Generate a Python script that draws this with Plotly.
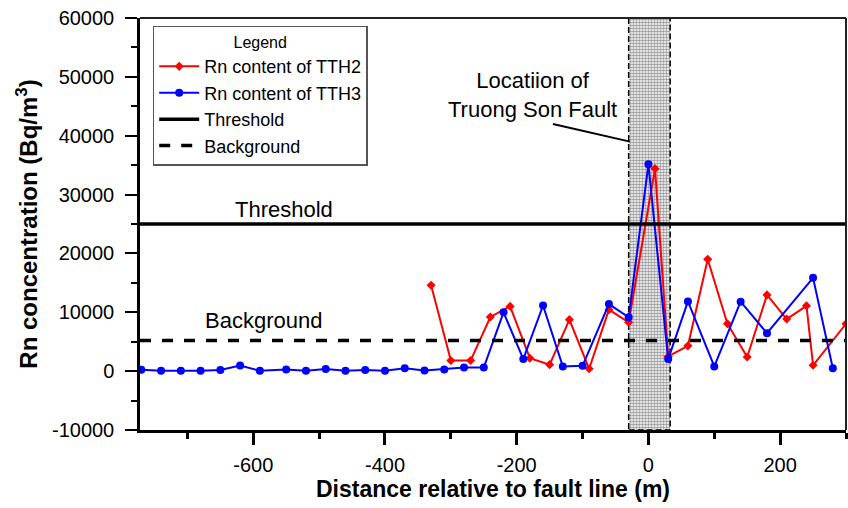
import plotly.graph_objects as go

# ---- data ----
tth2_x = [-330, -300, -270, -240, -210, -180, -150, -120, -90, -60, -30, 10, 30, 60, 90, 120, 150, 180, 210, 240, 250, 300]
tth2_y = [14600, 1800, 1800, 9200, 11000, 2200, 1100, 8750, 400, 10450, 8300, 34400, 2500, 4300, 19000, 8050, 2400, 12950, 8850, 11100, 1000, 8050]

tth3_x = [-770, -740, -710, -680, -650, -620, -590, -550, -520, -490, -460, -430, -400, -370, -340, -310, -280, -250,
          -220, -190, -160, -130, -100, -60, -30, 0, 30, 60, 100, 140, 180, 250, 280]
tth3_y = [250, 50, 50, 50, 200, 950, 50, 300, 50, 350, 50, 200, 50, 500, 100, 300, 600, 600,
          10000, 2050, 11150, 800, 900, 11400, 9150, 35150, 2050, 11850, 800, 11800, 6450, 15850, 500]

threshold = 25000
background = 5200
fault_zone = [-30, 33]

x_range = [-772, 300]
y_range = [-10000, 60000]
x_tickvals = [-600, -400, -200, 0, 200]
x_ticktext = ["-600", "-400", "-200", "0", "200"]
y_tickvals = [-10000, 0, 10000, 20000, 30000, 40000, 50000, 60000]
y_ticktext = ["-10000", "0", "10000", "20000", "30000", "40000", "50000", "60000"]

FONT = "Liberation Sans, Arial, sans-serif"

fig = go.Figure()

# fault zone (stippled band)
fig.add_trace(go.Scatter(
    x=[fault_zone[0], fault_zone[1], fault_zone[1], fault_zone[0], fault_zone[0]],
    y=[y_range[0], y_range[0], y_range[1], y_range[1], y_range[0]],
    mode="lines", fill="toself",
    fillcolor="rgba(0,0,0,0)",
    fillpattern=dict(shape=".", fgcolor="#333333", bgcolor="white", size=3, solidity=0.55),
    line=dict(color="black", width=1.5, dash="6px,3px"),
    showlegend=False, hoverinfo="skip"))

fig.add_trace(go.Scatter(
    x=tth2_x, y=tth2_y, mode="lines+markers", name="Rn content of TTH2",
    line=dict(color="#ff0000", width=2),
    marker=dict(symbol="diamond", size=7, color="#ff0000")))

fig.add_trace(go.Scatter(
    x=tth3_x, y=tth3_y, mode="lines+markers", name="Rn content of TTH3",
    line=dict(color="#0000ff", width=2),
    marker=dict(symbol="circle", size=8, color="#0000ff")))

fig.add_trace(go.Scatter(
    x=x_range, y=[threshold, threshold], mode="lines", name="Threshold",
    line=dict(color="black", width=3.5), hoverinfo="skip"))

fig.add_trace(go.Scatter(
    x=x_range, y=[background, background], mode="lines", name="Background",
    line=dict(color="black", width=3.5, dash="11px,11px"), hoverinfo="skip"))

# annotations
fig.add_annotation(x=-553, y=threshold, text="Threshold", showarrow=False,
                   yanchor="bottom", yshift=0, font=dict(size=22, family=FONT, color="black"))
fig.add_annotation(x=-585, y=background, text="Background", showarrow=False,
                   yanchor="bottom", yshift=6, font=dict(size=22, family=FONT, color="black"))
fig.add_annotation(x=-176, y=46900, text="Locatiion of<br>Truong Son Fault", showarrow=False,
                   font=dict(size=22, family=FONT, color="black"), align="center")
# leader line to the fault zone
fig.add_shape(type="line", xref="x", yref="y", x0=-145, y0=42000, x1=fault_zone[0] + 2, y1=39000,
              line=dict(color="black", width=2))

# top and right frame
fig.add_shape(type="line", xref="paper", yref="paper", x0=0, x1=1, y0=1, y1=1,
              line=dict(color="#222222", width=2))
fig.add_shape(type="line", xref="paper", yref="paper", x0=1, x1=1, y0=0, y1=1,
              line=dict(color="#222222", width=2))

fig.update_layout(
    width=848, height=508,
    margin=dict(l=140, r=2, t=18, b=78),
    paper_bgcolor="white", plot_bgcolor="white",
    font=dict(family=FONT, color="black"),
    legend=dict(
        x=0.018, y=0.981, xanchor="left", yanchor="top",
        bgcolor="white", bordercolor="#555555", borderwidth=1.5,
        font=dict(size=18, family=FONT),
        title=dict(text="Legend", side="top center", font=dict(size=16, family=FONT)),
        tracegroupgap=0, itemwidth=40),
    xaxis=dict(
        range=x_range, showgrid=False, zeroline=False,
        showline=True, linecolor="black", linewidth=2.5,
        tickvals=x_tickvals, ticktext=x_ticktext,
        ticks="outside", ticklen=12, tickwidth=2.5, tickcolor="black",
        ticklabelstandoff=3,
        minor=dict(dtick=100, ticks="outside", ticklen=6, tickwidth=2.5, tickcolor="black"),
        tickfont=dict(size=20, family=FONT),
        title=dict(text="<b>Distance relative to fault line (m)</b>",
                   font=dict(size=23, family=FONT), standoff=2)),
    yaxis=dict(
        range=y_range, showgrid=False, zeroline=False,
        showline=True, linecolor="black", linewidth=2.5,
        tickvals=y_tickvals, ticktext=y_ticktext,
        ticks="outside", ticklen=12, tickwidth=2, tickcolor="black",
        ticklabelstandoff=7,
        minor=dict(dtick=5000, ticks="outside", ticklen=6, tickwidth=2, tickcolor="black"),
        tickfont=dict(size=20, family=FONT),
        title=dict(text="<b>Rn concentration (Bq/m<sup>3</sup>)</b>",
                   font=dict(size=24, family=FONT), standoff=8)),
)

fig.write_html("out.html")
